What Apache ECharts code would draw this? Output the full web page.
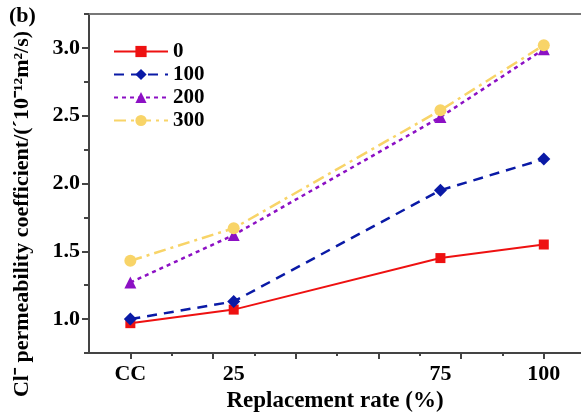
<!DOCTYPE html>
<html>
<head>
<meta charset="utf-8">
<script src="https://cdn.jsdelivr.net/npm/echarts@6/dist/echarts.min.js"></script>
<style>
  html, body { margin: 0; padding: 0; background: #fff; }
  #main { width: 581px; height: 412px; }
</style>
</head>
<body>
<div id="main"></div>
<script>
// replacement rate (%) -> x position, CC drawn at 0
var rates = [0, 25, 75, 100];
var rateLabels = { 0: 'CC', 25: '25', 75: '75', 100: '100' };
var seriesNames = ['0', '100', '200', '300'];
var vals0 = [0.97, 1.07, 1.45, 1.55];
var vals100 = [1.00, 1.13, 1.95, 2.18];
var vals200 = [1.27, 1.62, 2.49, 2.99];
var vals300 = [1.43, 1.67, 2.54, 3.02];
var yLabels = [1.0, 1.5, 2.0, 2.5, 3.0];
var yMinor = [0.75, 1.25, 1.75, 2.25, 2.75, 3.25];
var xMajor = [0, 20, 40, 60, 80, 100];
var xMinor = [10, 30, 50, 70, 90];

var FONT = 'Liberation Serif';
var AXC = '#444';

function pairs(vals) {
    var out = [];
    for (var i = 0; i < rates.length; i++) out.push([rates[i], vals[i]]);
    return out;
}

var myChart = echarts.init(document.getElementById('main'));

var option = {
    animation: false,
    backgroundColor: '#fff',
    title: {
        text: '(b)', left: 4, top: 0,
        textStyle: { fontFamily: FONT, fontWeight: 'bold', fontSize: 22, color: '#000' }
    },
    // y title placed by hand, it sits lower than the plot centre
    graphic: [{
        type: 'text', x: 22, y: 214, rotation: Math.PI / 2,
        style: {
            text: 'Cl\u207B permeability coefficient/(\u00B410\u207B\u00B9\u00B2m\u00B2/s)',
            fontFamily: FONT, fontWeight: 'bold', fontSize: 22, fill: '#000',
            align: 'center', verticalAlign: 'middle'
        }
    }],
    grid: { left: 89, right: 0, top: 14, bottom: 59, outerBoundsMode: 'none' },
    legend: {
        orient: 'vertical', left: 108, top: 36,
        itemWidth: 54, itemHeight: 14, itemGap: 2,
        textStyle: { fontFamily: FONT, fontWeight: 'bold', fontSize: 21, color: '#000' },
        data: seriesNames
    },
    xAxis: [{
        type: 'value', min: -10, max: 109, position: 'bottom',
        splitLine: { show: false },
        axisLine: { onZero: false, lineStyle: { color: AXC, width: 2 } },
        axisTick: { customValues: xMajor, length: 6, lineStyle: { color: AXC, width: 2 } },
        axisLabel: {
            customValues: rates, margin: 10,
            formatter: function (v) { return rateLabels[v]; },
            fontFamily: FONT, fontWeight: 'bold', fontSize: 22, color: '#000'
        },
        name: 'Replacement rate (%)', nameLocation: 'middle', nameGap: 36,
        nameTextStyle: { fontFamily: FONT, fontWeight: 'bold', fontSize: 23, color: '#000' }
    }, {
        type: 'value', min: -10, max: 109, position: 'bottom',
        splitLine: { show: false },
        axisLine: { show: false, onZero: false },
        axisTick: { customValues: xMinor, length: 3, lineStyle: { color: AXC, width: 2 } },
        axisLabel: { show: false }
    }, {
        type: 'value', min: -10, max: 109, position: 'top',
        splitLine: { show: false },
        axisLine: { onZero: false, lineStyle: { color: '#777', width: 2 } },
        axisTick: { show: false },
        axisLabel: { show: false }
    }],
    yAxis: [{
        type: 'value', min: 0.75, max: 3.25, position: 'left',
        splitLine: { show: false },
        axisLine: { show: true, onZero: false, lineStyle: { color: AXC, width: 2 } },
        axisTick: { show: true, customValues: yLabels, length: 7, lineStyle: { color: AXC, width: 2 } },
        axisLabel: {
            customValues: yLabels, margin: 9,
            formatter: function (v) { return v.toFixed(1); },
            fontFamily: FONT, fontWeight: 'bold', fontSize: 22, color: '#000'
        }
    }, {
        type: 'value', min: 0.75, max: 3.25, position: 'left',
        splitLine: { show: false },
        axisLine: { show: false, onZero: false },
        axisTick: { show: true, customValues: yMinor, length: 5, lineStyle: { color: AXC, width: 2 } },
        axisLabel: { show: false }
    }],
    series: [{
        name: seriesNames[0], type: 'line', data: pairs(vals0),
        symbol: 'rect', symbolSize: 10,
        itemStyle: { color: '#ee1111' },
        lineStyle: { color: '#ee1111', width: 2 }
    }, {
        name: seriesNames[1], type: 'line', data: pairs(vals100),
        symbol: 'diamond', symbolSize: 13,
        itemStyle: { color: '#0a1aa6' },
        lineStyle: { color: '#0a1aa6', width: 2.5, type: [10, 7] }
    }, {
        name: seriesNames[2], type: 'line', data: pairs(vals200),
        symbol: 'triangle', symbolSize: 12,
        itemStyle: { color: '#8c10c4' },
        lineStyle: { color: '#8c10c4', width: 2.5, type: [4, 4] }
    }, {
        name: seriesNames[3], type: 'line', data: pairs(vals300),
        symbol: 'circle', symbolSize: 12,
        itemStyle: { color: '#f8d468' },
        lineStyle: { color: '#f8d468', width: 2.5, type: [12, 5, 3, 5] }
    }]
};

myChart.setOption(option);
</script>
</body>
</html>
